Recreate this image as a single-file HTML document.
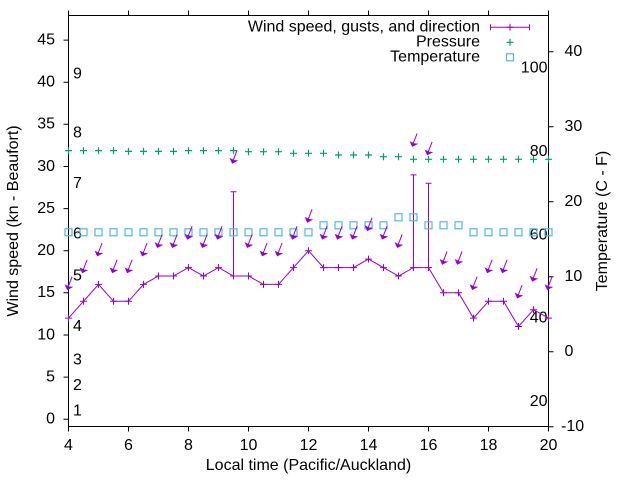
<!DOCTYPE html>
<html>
<head>
<meta charset="utf-8">
<style>
html,body{margin:0;padding:0;background:#fff;}
svg{display:block;}
text{font-family:"Liberation Sans",Arial,sans-serif;font-size:16px;fill:#000;}
</style>
</head>
<body>
<svg width="640" height="480" viewBox="0 0 640 480" xmlns="http://www.w3.org/2000/svg">
<defs>
  <path id="pl" d="M-3.5 0h7M0 -3.5v7"/>
  <rect id="sq" x="-3.5" y="-3.5" width="7" height="7" fill="none"/>
  <g id="ar">
    <path d="M0.5 -2 L4.8 -13" stroke="#9400d3" stroke-width="1" fill="none"/>
    <polygon points="0,0 5,-2.6 1.6,-3 -2.1,-4.8" fill="#9400d3" stroke="#9400d3" stroke-width="0.6"/>
  </g>
</defs>
<rect width="640" height="480" fill="#fff"/>

<!-- border -->
<rect x="68.5" y="15.5" width="480" height="411" fill="none" stroke="#000" stroke-width="1"/>

<!-- ticks -->
<g stroke="#000" stroke-width="1" fill="none">
  <path d="M68.5 426.5v5M128.5 426.5v5M188.5 426.5v5M248.5 426.5v5M308.5 426.5v5M368.5 426.5v5M428.5 426.5v5M488.5 426.5v5M548.5 426.5v5"/>
  <path d="M68.5 15.5v-5M128.5 15.5v-5M188.5 15.5v-5M248.5 15.5v-5M308.5 15.5v-5M368.5 15.5v-5M428.5 15.5v-5M488.5 15.5v-5M548.5 15.5v-5"/>
  <path d="M63.5 419.2h5M63.5 377.1h5M63.5 335h5M63.5 292.8h5M63.5 250.7h5M63.5 208.6h5M63.5 166.5h5M63.5 124.3h5M63.5 82.2h5M63.5 40.1h5"/>
  <path d="M548.5 426.7h5M548.5 351.7h5M548.5 276.7h5M548.5 201.7h5M548.5 126.7h5M548.5 51.7h5"/>
</g>

<!-- left tick labels -->
<g text-anchor="end">
  <text x="55" y="423.5">0</text>
  <text x="55" y="381.4">5</text>
  <text x="55" y="339.3">10</text>
  <text x="55" y="297.1">15</text>
  <text x="55" y="255">20</text>
  <text x="55" y="212.9">25</text>
  <text x="55" y="170.8">30</text>
  <text x="55" y="128.6">35</text>
  <text x="55" y="86.5">40</text>
  <text x="55" y="44.4">45</text>
</g>

<!-- bottom tick labels -->
<g text-anchor="middle">
  <text x="68.5" y="450">4</text>
  <text x="128.5" y="450">6</text>
  <text x="188.5" y="450">8</text>
  <text x="248.5" y="450">10</text>
  <text x="308.5" y="450">12</text>
  <text x="368.5" y="450">14</text>
  <text x="428.5" y="450">16</text>
  <text x="488.5" y="450">18</text>
  <text x="548.5" y="450">20</text>
</g>

<!-- right tick labels -->
<text x="561" y="431">-10</text>
<text x="564.5" y="356">0</text>
<text x="564.5" y="281">10</text>
<text x="564.5" y="206">20</text>
<text x="564.5" y="131">30</text>
<text x="564.5" y="56">40</text>

<!-- Fahrenheit labels -->
<g text-anchor="end">
  <text x="547.5" y="72.7">100</text>
  <text x="547.5" y="156">80</text>
  <text x="547.5" y="239.3">60</text>
  <text x="547.5" y="322.7">40</text>
  <text x="547.5" y="406">20</text>
</g>

<!-- Beaufort labels -->
<g>
  <text x="73" y="415.3">1</text>
  <text x="73" y="390">2</text>
  <text x="73" y="364.7">3</text>
  <text x="73" y="331">4</text>
  <text x="73" y="280.5">5</text>
  <text x="73" y="238.4">6</text>
  <text x="73" y="187.8">7</text>
  <text x="73" y="137.3">8</text>
  <text x="73" y="78.3">9</text>
</g>

<!-- axis labels -->
<text x="308.5" y="470" text-anchor="middle">Local time (Pacific/Auckland)</text>
<text transform="translate(18,221) rotate(-90)" text-anchor="middle">Wind speed (kn - Beaufort)</text>
<text transform="translate(607,221) rotate(-90)" text-anchor="middle">Temperature (C - F)</text>

<!-- wind line -->
<g stroke="#9400d3" stroke-width="1" fill="none">
  <polyline points="68.5,318.1 83.5,301.3 98.5,284.4 113.5,301.3 128.5,301.3 143.5,284.4 158.5,276 173.5,276 188.5,267.6 203.5,276 218.5,267.6 233.5,276 248.5,276 263.5,284.4 278.5,284.4 293.5,267.6 308.5,250.7 323.5,267.6 338.5,267.6 353.5,267.6 368.5,259.1 383.5,267.6 398.5,276 413.5,267.6 428.5,267.6 443.5,292.8 458.5,292.8 473.5,318.1 488.5,301.3 503.5,301.3 518.5,326.5 533.5,309.7 548.5,318.1"/>
  <path d="M233.5 276V191.7M230.5 191.7h6M413.5 267.6V174.9M410.5 174.9h6M428.5 267.6V183.3M425.5 183.3h6"/>
  <use href="#pl" x="68.5" y="318.1"/>
  <use href="#pl" x="83.5" y="301.3"/>
  <use href="#pl" x="98.5" y="284.4"/>
  <use href="#pl" x="113.5" y="301.3"/>
  <use href="#pl" x="128.5" y="301.3"/>
  <use href="#pl" x="143.5" y="284.4"/>
  <use href="#pl" x="158.5" y="276"/>
  <use href="#pl" x="173.5" y="276"/>
  <use href="#pl" x="188.5" y="267.6"/>
  <use href="#pl" x="203.5" y="276"/>
  <use href="#pl" x="218.5" y="267.6"/>
  <use href="#pl" x="233.5" y="276"/>
  <use href="#pl" x="248.5" y="276"/>
  <use href="#pl" x="263.5" y="284.4"/>
  <use href="#pl" x="278.5" y="284.4"/>
  <use href="#pl" x="293.5" y="267.6"/>
  <use href="#pl" x="308.5" y="250.7"/>
  <use href="#pl" x="323.5" y="267.6"/>
  <use href="#pl" x="338.5" y="267.6"/>
  <use href="#pl" x="353.5" y="267.6"/>
  <use href="#pl" x="368.5" y="259.1"/>
  <use href="#pl" x="383.5" y="267.6"/>
  <use href="#pl" x="398.5" y="276"/>
  <use href="#pl" x="413.5" y="267.6"/>
  <use href="#pl" x="428.5" y="267.6"/>
  <use href="#pl" x="443.5" y="292.8"/>
  <use href="#pl" x="458.5" y="292.8"/>
  <use href="#pl" x="473.5" y="318.1"/>
  <use href="#pl" x="488.5" y="301.3"/>
  <use href="#pl" x="503.5" y="301.3"/>
  <use href="#pl" x="518.5" y="326.5"/>
  <use href="#pl" x="533.5" y="309.7"/>
  <use href="#pl" x="548.5" y="318.1"/>
</g>

<!-- pressure -->
<g stroke="#009e73" stroke-width="1.2" fill="none">
  <use href="#pl" x="68.5" y="150.6"/>
  <use href="#pl" x="83.5" y="150.6"/>
  <use href="#pl" x="98.5" y="150.6"/>
  <use href="#pl" x="113.5" y="150.6"/>
  <use href="#pl" x="128.5" y="151.4"/>
  <use href="#pl" x="143.5" y="151.4"/>
  <use href="#pl" x="158.5" y="151.4"/>
  <use href="#pl" x="173.5" y="151.4"/>
  <use href="#pl" x="188.5" y="150.6"/>
  <use href="#pl" x="203.5" y="150.6"/>
  <use href="#pl" x="218.5" y="150.6"/>
  <use href="#pl" x="233.5" y="150.6"/>
  <use href="#pl" x="248.5" y="151.7"/>
  <use href="#pl" x="263.5" y="151.7"/>
  <use href="#pl" x="278.5" y="151.7"/>
  <use href="#pl" x="293.5" y="153.3"/>
  <use href="#pl" x="308.5" y="153.3"/>
  <use href="#pl" x="323.5" y="153.3"/>
  <use href="#pl" x="338.5" y="155"/>
  <use href="#pl" x="353.5" y="155"/>
  <use href="#pl" x="368.5" y="155"/>
  <use href="#pl" x="383.5" y="156.7"/>
  <use href="#pl" x="398.5" y="156.7"/>
  <use href="#pl" x="413.5" y="159.3"/>
  <use href="#pl" x="428.5" y="159.3"/>
  <use href="#pl" x="443.5" y="159.3"/>
  <use href="#pl" x="458.5" y="159.3"/>
  <use href="#pl" x="473.5" y="159.3"/>
  <use href="#pl" x="488.5" y="159.3"/>
  <use href="#pl" x="503.5" y="159.3"/>
  <use href="#pl" x="518.5" y="159.3"/>
  <use href="#pl" x="533.5" y="159.3"/>
  <use href="#pl" x="548.5" y="159.3"/>
</g>

<!-- temperature -->
<g stroke="#56b4e9" stroke-width="1.2" fill="none">
  <use href="#sq" x="68.5" y="232.3"/>
  <use href="#sq" x="83.5" y="232.3"/>
  <use href="#sq" x="98.5" y="232.3"/>
  <use href="#sq" x="113.5" y="232.3"/>
  <use href="#sq" x="128.5" y="232.3"/>
  <use href="#sq" x="143.5" y="232.3"/>
  <use href="#sq" x="158.5" y="232.3"/>
  <use href="#sq" x="173.5" y="232.3"/>
  <use href="#sq" x="188.5" y="232.3"/>
  <use href="#sq" x="203.5" y="232.3"/>
  <use href="#sq" x="218.5" y="232.3"/>
  <use href="#sq" x="233.5" y="232.3"/>
  <use href="#sq" x="248.5" y="232.3"/>
  <use href="#sq" x="263.5" y="232.3"/>
  <use href="#sq" x="278.5" y="232.3"/>
  <use href="#sq" x="293.5" y="232.3"/>
  <use href="#sq" x="308.5" y="232.3"/>
  <use href="#sq" x="323.5" y="225.3"/>
  <use href="#sq" x="338.5" y="225.3"/>
  <use href="#sq" x="353.5" y="225.3"/>
  <use href="#sq" x="368.5" y="225.3"/>
  <use href="#sq" x="383.5" y="225.3"/>
  <use href="#sq" x="398.5" y="217.3"/>
  <use href="#sq" x="413.5" y="217.3"/>
  <use href="#sq" x="428.5" y="225.3"/>
  <use href="#sq" x="443.5" y="225.3"/>
  <use href="#sq" x="458.5" y="225.3"/>
  <use href="#sq" x="473.5" y="232.3"/>
  <use href="#sq" x="488.5" y="232.3"/>
  <use href="#sq" x="503.5" y="232.3"/>
  <use href="#sq" x="518.5" y="232.3"/>
  <use href="#sq" x="533.5" y="232.3"/>
  <use href="#sq" x="548.5" y="232.3"/>
</g>

<!-- direction arrows -->
<g>
  <use href="#ar" x="67.3" y="289.7"/>
  <use href="#ar" x="82.3" y="272.8"/>
  <use href="#ar" x="97.3" y="256"/>
  <use href="#ar" x="112.3" y="272.8"/>
  <use href="#ar" x="127.3" y="272.8"/>
  <use href="#ar" x="142.3" y="256"/>
  <use href="#ar" x="157.3" y="247.6"/>
  <use href="#ar" x="172.3" y="247.6"/>
  <use href="#ar" x="187.3" y="239.2"/>
  <use href="#ar" x="202.3" y="247.6"/>
  <use href="#ar" x="217.3" y="239.2"/>
  <use href="#ar" x="232.3" y="163.3"/>
  <use href="#ar" x="247.3" y="247.6"/>
  <use href="#ar" x="262.3" y="256"/>
  <use href="#ar" x="277.3" y="256"/>
  <use href="#ar" x="292.3" y="239.2"/>
  <use href="#ar" x="307.3" y="222.3"/>
  <use href="#ar" x="322.3" y="239.2"/>
  <use href="#ar" x="337.3" y="239.2"/>
  <use href="#ar" x="352.3" y="239.2"/>
  <use href="#ar" x="367.3" y="230.7"/>
  <use href="#ar" x="382.3" y="239.2"/>
  <use href="#ar" x="397.3" y="247.6"/>
  <use href="#ar" x="412.3" y="146.5"/>
  <use href="#ar" x="427.3" y="154.9"/>
  <use href="#ar" x="442.3" y="264.4"/>
  <use href="#ar" x="457.3" y="264.4"/>
  <use href="#ar" x="472.3" y="289.7"/>
  <use href="#ar" x="487.3" y="272.8"/>
  <use href="#ar" x="502.3" y="272.8"/>
  <use href="#ar" x="517.3" y="298.1"/>
  <use href="#ar" x="532.3" y="281.3"/>
  <use href="#ar" x="547.3" y="289.7"/>
</g>

<!-- legend -->
<g text-anchor="end">
  <text x="480" y="31.5">Wind speed, gusts, and direction</text>
  <text x="480" y="46.5">Pressure</text>
  <text x="480" y="61.5">Temperature</text>
</g>
<g stroke="#9400d3" stroke-width="1" fill="none">
  <path d="M490 27.3H530M490.5 24.3v6M529.5 24.3v6"/>
  <use href="#pl" x="510" y="27.3"/>
</g>
<g stroke="#009e73" stroke-width="1.2" fill="none">
  <use href="#pl" x="510" y="42.3"/>
</g>
<g stroke="#56b4e9" stroke-width="1.2" fill="none">
  <use href="#sq" x="510" y="57.3"/>
</g>
</svg>
</body>
</html>
